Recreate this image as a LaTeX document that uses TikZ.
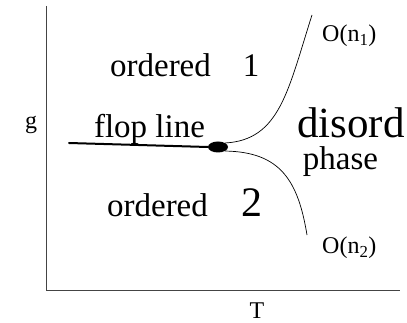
\documentclass[tikz,border=0pt]{standalone}
\usepackage{fontspec}
\setmainfont{Liberation Serif}
\usepackage{xcolor}
\definecolor{axis-line}{HTML}{444444}
\usetikzlibrary{shapes.geometric,positioning,calc}

\begin{document}
\begin{tikzpicture}[
    x=1pt, y=-1pt,
    axis/.style={
      draw=axis-line,
      line width=0.9pt
    },
    region/.style={
      font=\fontsize{33}{36}\selectfont,
      anchor=base,
      inner sep=0pt
    },
    branch/.style={
      font=\fontsize{24}{28}\selectfont,
      anchor=base west,
      inner sep=0pt
    },
    axlabel/.style={
      font=\fontsize{24}{28}\selectfont,
      inner sep=0pt
    },
    flop/.style={
      line width=2pt,
      line cap=round
    },
    crit/.style={
      line width=0.7pt
    },
    tcp/.style={
      ellipse,
      fill=black,
      minimum width=20pt,
      minimum height=11pt,
      inner sep=0pt
    }
  ]
    \useasboundingbox (0,0) rectangle (407,323);

    % ---- Axes ----
    \coordinate (origin) at (46,290);
    \coordinate (gtop)   at (46,6);
    \coordinate (tend)   at (400,290);
    \draw[axis] (gtop) -- (origin) -- (tend);
    \node[axlabel] (glab) at (31,125) {g};
    \node[axlabel] (tlab) at (257,311) {T};

    % ---- Flop line and tetracritical point ----
    \node[tcp] (point) at (218,147) {};
    \coordinate (flopstart) at (69,143);
    \draw[flop] (flopstart) -- (point.west);

    % ---- Critical lines ----
    \coordinate (n1end) at (312,15);
    \coordinate (n2end) at (307,235);
    \draw[crit] (point.north east) .. controls (280,140) and (288,90) .. (n1end);
    \draw[crit] (point.south east) .. controls (280,152) and (298,180) .. (n2end);

    % ---- Phase labels ----
    \node[region] (ord1)  at (160.5,77) {ordered};
    \node[region] (one)   at (251,77)   {1};
    \node[region] (floplab) at (149.5,138) {flop line};
    \node[region, font=\fontsize{43}{46}\selectfont] (disord) at (351,138) {disord};
    \node[region] (phase) at (340.5,170) {phase};
    \node[region] (ord2)  at (157.5,217) {ordered};
    \node[region, font=\fontsize{42}{44}\selectfont] (two) at (252,217) {2};

    % ---- Branch labels ----
    \node[branch] (on1) at (322,42)  {O(n\textsubscript{1})};
    \node[branch] (on2) at (322,254) {O(n\textsubscript{2})};
  \end{tikzpicture}
\end{document}
